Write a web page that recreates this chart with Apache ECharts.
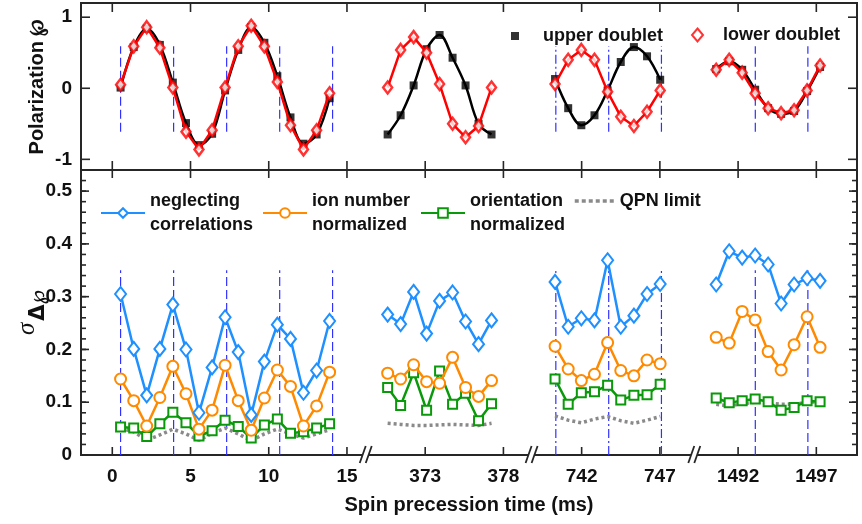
<!DOCTYPE html>
<html>
<head>
<meta charset="utf-8">
<script src="https://cdn.jsdelivr.net/npm/echarts@6/dist/echarts.min.js"></script>
<style>
html, body { margin: 0; padding: 0; background: #fff; }
#main { width: 862px; height: 524px; }
</style>
</head>
<body>
<div id="main"></div>
<script>
// broken time axis: every 5-ms slot of the compressed axis gets one label
var tickLabels = ['0', '5', '10', '15', '373', '378', '742', '747', '1492', '1497'];

// measurement times (ms), one list per time window
var times1 = [0.53, 1.37, 2.20, 3.04, 3.87, 4.71, 5.54, 6.38, 7.21, 8.05, 8.88, 9.72, 10.55, 11.39, 12.22, 13.06, 13.89];
var times2 = [370.60, 371.43, 372.26, 373.09, 373.92, 374.75, 375.58, 376.41, 377.24];
var times3 = [740.30, 741.14, 741.98, 742.82, 743.66, 744.50, 745.34, 746.18, 747.02];
var times4 = [1490.60, 1491.43, 1492.26, 1493.09, 1493.92, 1494.75, 1495.58, 1496.41, 1497.24];

// polarization, upper / lower doublet
var upper1 = [0.01, 0.58, 0.84, 0.61, 0.08, -0.49, -0.80, -0.64, -0.03, 0.54, 0.86, 0.64, 0.17, -0.41, -0.78, -0.65, -0.14];
var lower1 = [0.05, 0.59, 0.86, 0.57, 0.01, -0.61, -0.86, -0.59, 0.01, 0.59, 0.88, 0.59, 0.09, -0.52, -0.86, -0.59, -0.07];
var upper2 = [-0.65, -0.38, 0.04, 0.55, 0.75, 0.43, 0.04, -0.50, -0.65];
var lower2 = [0.01, 0.54, 0.72, 0.50, 0.06, -0.50, -0.69, -0.53, 0.01];
var upper3 = [0.13, -0.28, -0.52, -0.38, -0.03, 0.37, 0.58, 0.45, 0.12];
var lower3 = [0.06, 0.40, 0.54, 0.40, -0.05, -0.40, -0.53, -0.33, -0.03];
var upper4 = [0.27, 0.38, 0.26, -0.02, -0.28, -0.36, -0.32, -0.04, 0.30];
var lower4 = [0.26, 0.40, 0.22, -0.07, -0.28, -0.35, -0.31, -0.03, 0.32];

// sigma of delta polarization
var neg1 = [0.305, 0.201, 0.113, 0.201, 0.285, 0.200, 0.080, 0.166, 0.261, 0.195, 0.076, 0.177, 0.247, 0.220, 0.118, 0.160, 0.254];
var ion1 = [0.144, 0.103, 0.055, 0.109, 0.168, 0.116, 0.049, 0.085, 0.170, 0.103, 0.047, 0.108, 0.161, 0.130, 0.055, 0.093, 0.157];
var ori1 = [0.053, 0.051, 0.035, 0.059, 0.081, 0.061, 0.036, 0.046, 0.066, 0.054, 0.032, 0.057, 0.068, 0.041, 0.044, 0.051, 0.059];
var qpn1 = [0.051, 0.044, 0.028, 0.038, 0.049, 0.040, 0.028, 0.041, 0.051, 0.040, 0.027, 0.040, 0.049, 0.040, 0.032, 0.040, 0.048];
var neg2 = [0.266, 0.248, 0.309, 0.230, 0.292, 0.308, 0.253, 0.210, 0.255];
var ion2 = [0.155, 0.144, 0.171, 0.139, 0.136, 0.185, 0.128, 0.111, 0.141];
var ori2 = [0.128, 0.094, 0.156, 0.085, 0.159, 0.096, 0.117, 0.065, 0.097];
var qpn2 = [0.060, 0.058, 0.056, 0.056, 0.057, 0.058, 0.057, 0.056, 0.060];
var neg3 = [0.328, 0.243, 0.259, 0.255, 0.369, 0.243, 0.264, 0.305, 0.324];
var ion3 = [0.206, 0.163, 0.141, 0.153, 0.213, 0.160, 0.150, 0.180, 0.173];
var ori3 = [0.144, 0.096, 0.118, 0.120, 0.132, 0.104, 0.113, 0.114, 0.134];
var qpn3 = [0.074, 0.066, 0.061, 0.068, 0.073, 0.065, 0.060, 0.066, 0.073];
var neg4 = [0.323, 0.386, 0.374, 0.378, 0.361, 0.287, 0.323, 0.335, 0.330];
var ion4 = [0.223, 0.212, 0.272, 0.256, 0.196, 0.161, 0.209, 0.262, 0.204];
var ori4 = [0.108, 0.099, 0.103, 0.106, 0.101, 0.085, 0.090, 0.103, 0.101];
var qpn4 = [0.096, 0.093, 0.097, 0.100, 0.099, 0.096, 0.096, 0.100, 0.101];

// period markers (ms)
var marks1 = [0.53, 3.92, 7.31, 10.70, 14.08];
var marks3 = [740.35, 743.73, 747.10];
var marks4 = [1493.10, 1496.46];

// y tick values
var yTop = [-1, 0, 1];
var yBot = [0, 0.1, 0.2, 0.3, 0.4, 0.5];

var FONT = 'Liberation Sans';
var TXT = '#111';
var AX = '#262626';
var BLUE = '#1e90ff', ORANGE = '#ff8a00', GREEN = '#0a990a', GREY = '#8a8a8a';

// panel boxes
var L = 81, W = 776, T1 = 3, H1 = 167, T2 = 170, H2 = 285;

// shift of each window on the compressed axis
function offsetOf(t) {
    if (t < 100) return 0;
    if (t < 500) return 353;
    if (t < 1000) return 712;
    return 1452;
}
function pts(times, vals) {
    return times.map(function (t, i) { return [t - offsetOf(t), vals[i]]; });
}

var series = [];

// vertical period markers
function addMarks(list, dash) {
    list.forEach(function (t) {
        var x = t - offsetOf(t);
        [[0, -0.61, 0.59], [1, 0, 0.35]].forEach(function (g) {
            series.push({
                type: 'line', silent: true, symbol: 'none', z: 1,
                xAxisIndex: g[0], yAxisIndex: g[0],
                data: [[x, g[1]], [x, g[2]]],
                lineStyle: { color: '#3030ff', width: 1.2, type: dash }
            });
        });
    });
}
addMarks(marks1, [9, 4]);
addMarks(marks3, [9, 3, 2, 3]);
addMarks(marks4, [9, 4]);

// top panel
[[times1, upper1, lower1], [times2, upper2, lower2], [times3, upper3, lower3], [times4, upper4, lower4]].forEach(function (s) {
    series.push({
        type: 'line', smooth: 0.35, symbol: 'none', silent: true, z: 2,
        xAxisIndex: 0, yAxisIndex: 0,
        data: pts(s[0], s[1]),
        lineStyle: { color: '#000', width: 2.5 }
    });
    series.push({
        name: 'upper doublet', type: 'scatter', symbol: 'rect', symbolSize: 8, z: 3,
        xAxisIndex: 0, yAxisIndex: 0,
        data: pts(s[0], s[1]),
        itemStyle: { color: '#000' }
    });
    series.push({
        type: 'line', symbol: 'none', silent: true, z: 4,
        xAxisIndex: 0, yAxisIndex: 0,
        data: pts(s[0], s[2]),
        lineStyle: { color: '#ff0000', width: 2.5 }
    });
    series.push({
        name: 'lower doublet', type: 'scatter', symbol: 'diamond', symbolSize: [9, 12], z: 5,
        xAxisIndex: 0, yAxisIndex: 0,
        data: pts(s[0], s[2]),
        itemStyle: { color: '#fff', borderColor: '#ff0000', borderWidth: 2.5 }
    });
});

// bottom panel
function lineSeries(name, data, color, symbol, size, z) {
    return {
        name: name, type: 'line', symbol: symbol, symbolSize: size, z: z,
        xAxisIndex: 1, yAxisIndex: 1,
        data: data,
        lineStyle: { color: color, width: 2.5 },
        itemStyle: { color: '#fff', borderColor: color, borderWidth: 2 }
    };
}
[[times1, neg1, ion1, ori1, qpn1], [times2, neg2, ion2, ori2, qpn2],
 [times3, neg3, ion3, ori3, qpn3], [times4, neg4, ion4, ori4, qpn4]].forEach(function (s) {
    series.push({
        name: 'QPN limit', type: 'line', symbol: 'none', z: 2,
        xAxisIndex: 1, yAxisIndex: 1,
        data: pts(s[0], s[4]),
        lineStyle: { color: GREY, width: 3.5, type: [3, 3] },
        itemStyle: { color: GREY }
    });
    series.push(lineSeries('orientation normalized', pts(s[0], s[3]), GREEN, 'rect', 9, 3));
    series.push(lineSeries('ion number normalized', pts(s[0], s[2]), ORANGE, 'circle', 11, 4));
    series.push(lineSeries('neglecting correlations', pts(s[0], s[1]), BLUE, 'diamond', [11, 14], 5));
});

var legendNames = {
    'neglecting correlations': 'neglecting\ncorrelations',
    'ion number normalized': 'ion number\nnormalized',
    'orientation normalized': 'orientation\nnormalized',
    'QPN limit': 'QPN limit'
};
var legendText = { fontFamily: FONT, fontWeight: 'bold', fontSize: 18, lineHeight: 24, color: TXT };
function botLegend(name, left, w) {
    var item = { name: name };
    if (name === 'QPN limit') {
        item.itemStyle = { opacity: 0 };
        item.lineStyle = { width: 3.5, type: [4, 3], color: GREY };
    }
    return {
        left: left, top: 189, padding: 0, itemWidth: w, itemHeight: 12, itemGap: 0, selectedMode: false,
        data: [item], textStyle: legendText,
        formatter: function (n) { return legendNames[n]; }
    };
}

var tickVals = tickLabels.map(function (l, i) { return i * 5; });
function xAx(grid, labels) {
    var a = {
        type: 'value', gridIndex: grid, position: 'bottom', min: -2, max: 47.6,
        axisLine: { show: false, onZero: false }, splitLine: { show: false },
        axisTick: { show: false },
        axisLabel: { show: false }
    };
    if (labels) {
        a.axisLabel = {
            show: true, margin: 12, customValues: tickVals,
            fontFamily: FONT, fontWeight: 'bold', fontSize: 19, color: TXT,
            formatter: function (v) { return tickLabels[Math.round(v / 5)]; }
        };
        a.name = 'Spin precession time (ms)';
        a.nameLocation = 'middle';
        a.nameGap = 40;
        a.nameMoveOverlap = false;
        a.nameTextStyle = { fontFamily: FONT, fontWeight: 'bold', fontSize: 20, color: TXT };
    }
    return a;
}
function yAx(grid, min, max, custom) {
    return {
        type: 'value', gridIndex: grid, position: 'left', min: min, max: max,
        axisLine: { show: false, onZero: false }, splitLine: { show: false },
        axisTick: { show: false },
        nameMoveOverlap: false,
        axisLabel: {
            show: true, margin: 9, customValues: custom,
            fontFamily: FONT, fontWeight: 'bold', fontSize: 19, color: TXT
        }
    };
}

var yAxes = [yAx(0, -1.15, 1.2, yTop), yAx(1, 0, 0.54, yBot)];
yAxes[0].name = 'Polarization \u2118';
yAxes[0].nameLocation = 'middle';
yAxes[0].nameGap = 34;
yAxes[0].nameTextStyle = { fontFamily: FONT, fontWeight: 'bold', fontSize: 20, color: TXT };
yAxes[1].name = '{s|\u03c3}{sub|\u0394\u2118}';
yAxes[1].nameLocation = 'middle';
yAxes[1].nameGap = 32;
yAxes[1].nameTextStyle = {
    rich: {
        s: { fontFamily: 'Liberation Serif', fontStyle: 'italic', fontSize: 25, color: TXT, padding: [0, 0, 6, 0] },
        sub: { fontFamily: 'DejaVu Sans', fontWeight: 'bold', fontSize: 21, color: TXT, padding: [16, 0, 0, 2] }
    }
};

var option = {
    backgroundColor: '#fff',
    animation: false,
    grid: [
        { left: L, top: T1, width: W, height: H1, show: true, borderColor: AX, borderWidth: 2,
          containLabel: false, outerBoundsMode: 'none' },
        { left: L, top: T2, width: W, height: H2, show: true, borderColor: AX, borderWidth: 2,
          containLabel: false, outerBoundsMode: 'none' }
    ],
    legend: [
        { left: 511, top: 24, padding: 0, itemWidth: 8, itemHeight: 8, selectedMode: false,
          data: [{ name: 'upper doublet', icon: 'rect' }],
          textStyle: Object.assign({ padding: [0, 0, 0, 19] }, legendText) },
        { left: 691, top: 23, padding: 0, itemWidth: 11, itemHeight: 13, selectedMode: false,
          data: [{ name: 'lower doublet', icon: 'diamond' }],
          textStyle: Object.assign({ padding: [0, 0, 0, 15] }, legendText) },
        botLegend('neglecting correlations', 100, 44),
        botLegend('ion number normalized', 262, 44),
        botLegend('orientation normalized', 420, 44),
        botLegend('QPN limit', 573, 40)
    ],
    xAxis: [xAx(0), xAx(1, true)],
    yAxis: yAxes,
    series: series
};

var chart = echarts.init(document.getElementById('main'));
chart.setOption(option);

// inward ticks on all four sides of both panels, placed through the axes
var gfx = [];
function tick(x1, y1, x2, y2) {
    gfx.push({ type: 'line', z: 102, silent: true, shape: { x1: x1, y1: y1, x2: x2, y2: y2 },
               style: { stroke: AX, lineWidth: 1.6 } });
}
tickVals.forEach(function (v) {
    var x = chart.convertToPixel({ xAxisIndex: 1 }, v);
    tick(x, T1, x, T1 + 9); tick(x, T1 + H1, x, T1 + H1 - 9);
    tick(x, T2, x, T2 + 8); tick(x, T2 + H2, x, T2 + H2 - 8);
});
yTop.forEach(function (v) {
    var y = chart.convertToPixel({ yAxisIndex: 0 }, v);
    tick(L, y, L + 9, y); tick(L + W, y, L + W - 9, y);
});
yBot.forEach(function (v) {
    var y = chart.convertToPixel({ yAxisIndex: 1 }, v);
    tick(L, y, L + 8, y); tick(L + W, y, L + W - 8, y);
});
for (var m = 0.02; m < 0.54; m += 0.02) {
    var ym = chart.convertToPixel({ yAxisIndex: 1 }, m);
    tick(L, ym, L + 5, ym); tick(L + W, ym, L + W - 5, ym);
}

// axis break marks ("//") on the bottom axis
var breakAt = [16.2, 26.8, 37.2];
var y0 = T2 + H2;
breakAt.forEach(function (b) {
    var c = chart.convertToPixel({ xAxisIndex: 1 }, b);
    gfx.push({ type: 'polygon', z: 103, silent: true,
               shape: { points: [[c - 6, y0 + 8], [c, y0 - 9], [c + 6, y0 - 9], [c, y0 + 8]] },
               style: { fill: '#fff' } });
    gfx.push({ type: 'line', z: 104, silent: true, shape: { x1: c - 6, y1: y0 + 8, x2: c, y2: y0 - 9 },
               style: { stroke: AX, lineWidth: 1.8 } });
    gfx.push({ type: 'line', z: 104, silent: true, shape: { x1: c, y1: y0 + 8, x2: c + 6, y2: y0 - 9 },
               style: { stroke: AX, lineWidth: 1.8 } });
});
chart.setOption({ graphic: gfx });
</script>
</body>
</html>
